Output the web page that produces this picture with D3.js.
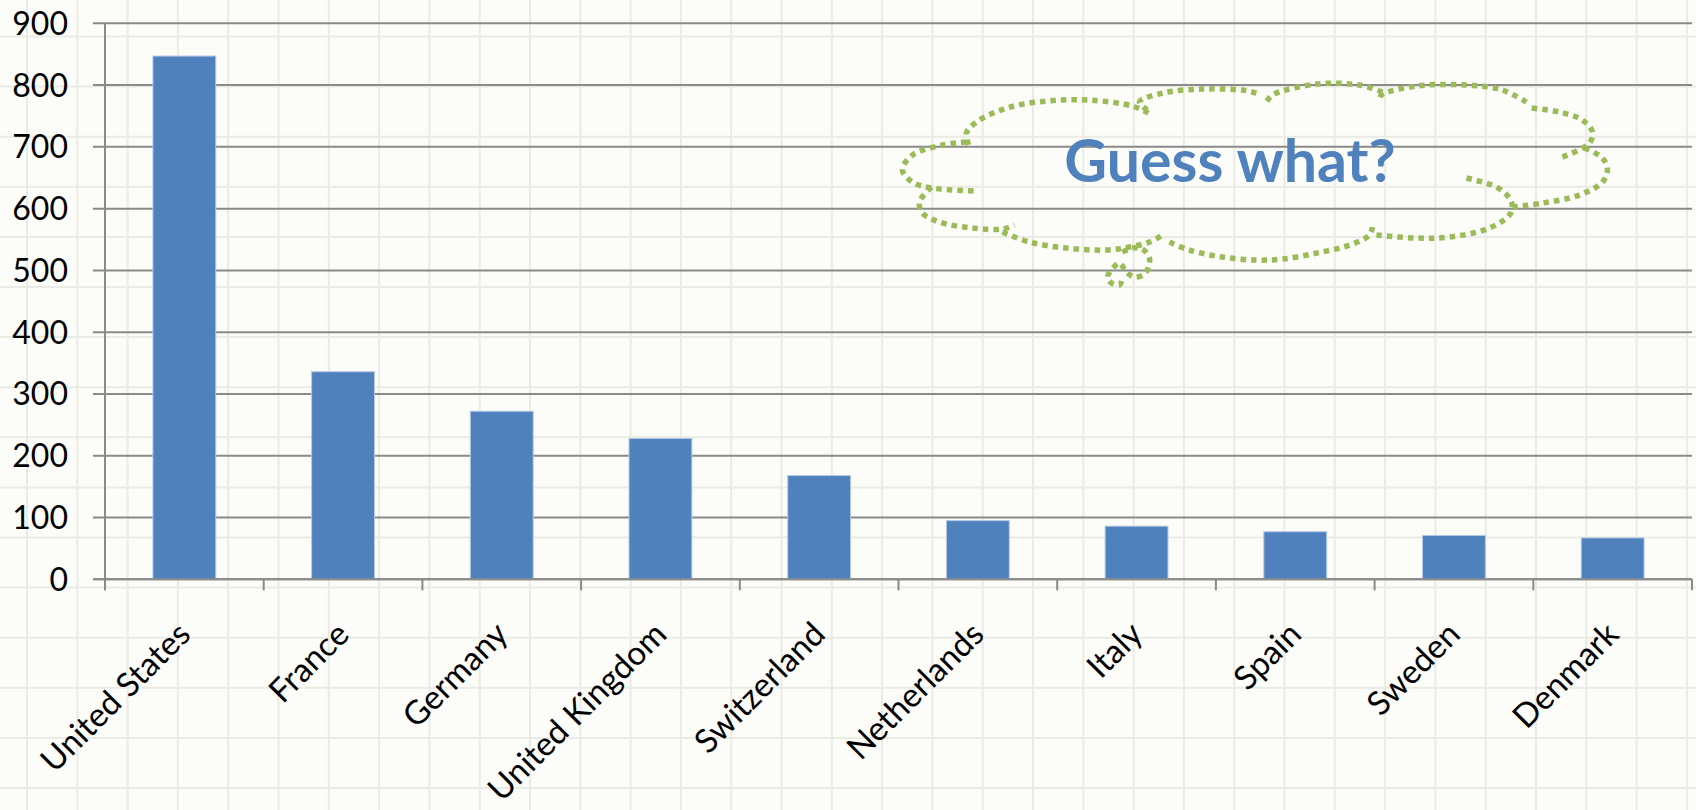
<!DOCTYPE html>
<html>
<head>
<meta charset="utf-8">
<script src="https://cdn.jsdelivr.net/npm/d3@7"></script>
<style>
  html, body { margin: 0; padding: 0; background: #fcfcf8; }
  svg { display: block; }
  .ylab { font-family: Lato, "Open Sans", sans-serif; font-size: 32px; fill: #000; }
  .xlab { font-family: Lato, "Open Sans", sans-serif; font-size: 33px; fill: #000; }
  .guess { font-family: Lato, "Open Sans", sans-serif; font-weight: bold; font-size: 59px; fill: #4f81bd; }
</style>
</head>
<body>
<div id="chart"></div>
<script>
  // data
  var countries = ["United States", "France", "Germany", "United Kingdom", "Switzerland",
    "Netherlands", "Italy", "Spain", "Sweden", "Denmark"];
  var values = [847, 336, 272, 228, 168, 95, 86, 77, 71, 67];
  var yTicks = [0, 100, 200, 300, 400, 500, 600, 700, 800, 900];
  var calloutText = "Guess what?";

  // cloud outline strands, in pixels relative to the cloud origin
  var cloudStrands = [
    [[249, 33], [233, 26], [190, 20], [147, 21], [107, 28], [77, 42], [67, 53], [70, 67]],
    [[67, 62], [43, 65], [13, 75], [3, 90], [13, 102], [33, 108], [78, 111]],
    [[32, 107], [20, 122], [23, 133], [40, 142], [73, 148], [103, 149], [115, 145]],
    [[103, 152], [130, 162], [167, 168], [207, 170], [230, 167], [250, 162], [263, 155]],
    [[223, 172], [233, 168], [243, 169], [250, 178], [249, 187], [245, 194], [235, 197], [227, 192],
      [220, 183], [212, 190], [208, 197], [212, 203], [220, 205], [223, 198]],
    [[270, 162], [290, 170], [323, 177], [357, 180], [383, 179], [417, 173], [450, 165], [470, 155], [473, 147]],
    [[477, 155], [517, 158], [550, 157], [590, 148], [610, 135], [613, 127], [610, 118], [597, 107], [563, 97]],
    [[613, 127], [643, 123], [680, 115], [703, 102], [708, 90], [703, 78], [683, 67]],
    [[663, 77], [690, 63], [693, 52], [683, 40], [660, 32], [632, 28]],
    [[627, 22], [603, 10], [567, 5], [517, 6], [482, 15], [480, 20]],
    [[483, 12], [460, 5], [417, 4], [373, 15], [367, 22]],
    [[357, 13], [343, 10], [303, 9], [263, 13], [240, 22], [248, 30]]
  ];

  var W = 1696, H = 810;
  var padLeft = 105, padRight = 4, padTop = 23.3, padBottom = 230.7;
  var x0 = padLeft, x1 = W - padRight;
  var y0 = H - padBottom, y1 = padTop;

  var svg = d3.select("#chart").append("svg")
    .attr("width", W)
    .attr("height", H);

  // faint spreadsheet cells behind everything
  var cells = svg.append("g")
    .attr("stroke", "#ebebe5")
    .attr("stroke-width", 2);
  d3.range(27, W, 50.3).forEach(function (gx) {
    cells.append("line").attr("x1", gx).attr("x2", gx).attr("y1", 0).attr("y2", H);
  });
  d3.range(36.5, H, 50.1).forEach(function (gy) {
    cells.append("line").attr("x1", 0).attr("x2", W).attr("y1", gy).attr("y2", gy);
  });

  var x = d3.scaleBand()
    .domain(countries)
    .range([x0, x1])
    .paddingInner(0.604)
    .paddingOuter(0.302);
  var y = d3.scaleLinear()
    .domain([0, 900])
    .range([y0, y1]);

  // horizontal gridlines + y ticks
  var grid = svg.append("g").attr("stroke", "#8a8a8a").attr("stroke-width", 2);
  yTicks.forEach(function (t) {
    grid.append("line")
      .attr("x1", x0 - 12).attr("x2", x1)
      .attr("y1", y(t)).attr("y2", y(t));
  });
  // y axis line
  grid.append("line")
    .attr("x1", x0).attr("x2", x0)
    .attr("y1", y(900)).attr("y2", y0 + 11);
  // category ticks at band edges
  var step = x.step();
  d3.range(countries.length + 1).forEach(function (i) {
    var tx = x0 + i * step;
    grid.append("line")
      .attr("x1", tx).attr("x2", tx)
      .attr("y1", y0).attr("y2", y0 + 11);
  });

  svg.append("g").selectAll("text")
    .data(yTicks)
    .join("text")
    .attr("class", "ylab")
    .attr("x", 68)
    .attr("y", function (d) { return y(d); })
    .attr("dy", "0.36em")
    .attr("text-anchor", "end")
    .text(function (d) { return d; });

  // bars
  svg.append("g").selectAll("rect")
    .data(values)
    .join("rect")
    .attr("x", function (d, i) { return x(countries[i]); })
    .attr("y", function (d) { return y(d); })
    .attr("width", x.bandwidth())
    .attr("height", function (d) { return y0 - y(d); })
    .attr("fill", "#4f81bd")
    .attr("stroke", "#b4c9e6")
    .attr("stroke-width", 1);

  // redraw the zero line on top of the bars' bottoms
  svg.append("line")
    .attr("x1", x0 - 12).attr("x2", x1)
    .attr("y1", y0).attr("y2", y0)
    .attr("stroke", "#8a8a8a").attr("stroke-width", 2);

  // rotated category labels
  svg.append("g").selectAll("text")
    .data(countries)
    .join("text")
    .attr("class", "xlab")
    .attr("text-anchor", "end")
    .attr("transform", function (d) {
      var cx = x(d) + x.bandwidth() / 2 + 8;
      return "translate(" + cx + "," + (y0 + 57) + ") rotate(-45)";
    })
    .text(function (d) { return d; });

  // callout cloud, anchored in the Netherlands band just under the 800 line
  var cloudX = x("Netherlands") - 47, cloudY = y(800) - 5;
  var cloudG = svg.append("g")
    .attr("transform", "translate(" + cloudX + "," + cloudY + ")");
  var strandLine = d3.line().curve(d3.curveCatmullRom.alpha(0.5));
  cloudG.selectAll("path")
    .data(cloudStrands)
    .join("path")
    .attr("d", strandLine)
    .attr("fill", "none")
    .attr("stroke", "#9bbb59")
    .attr("stroke-width", 5.5)
    .attr("stroke-dasharray", "5.5 5");

  svg.append("text")
    .attr("class", "guess")
    .attr("x", 1230)
    .attr("y", 181.7)
    .attr("text-anchor", "middle")
    .text(calloutText);
</script>
</body>
</html>
